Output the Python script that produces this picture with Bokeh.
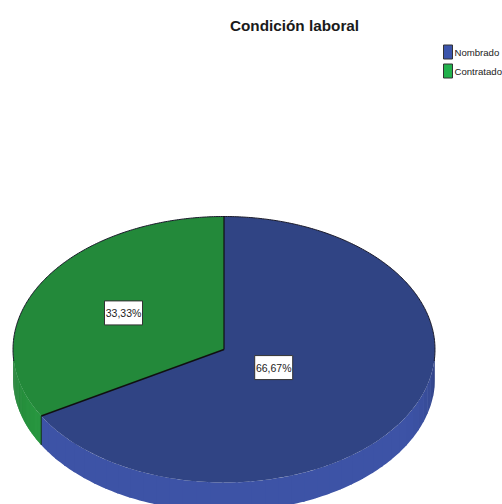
import numpy as np
from bokeh.plotting import figure
from bokeh.models import Range1d
from bokeh.core.properties import value
from bokeh.embed import file_html
from bokeh.resources import INLINE

title = "Condición laboral"
categories = ["Nombrado", "Contratado"]
percent = [66.67, 33.33]
top_colors = ["#304484", "#23893a"]
side_colors = ["#3d53a6", "#289640"]
legend_colors = ["#3c55ac", "#22b14c"]
label_radius = [0.272, 0.55]

CX, CY, RX, RY, DEPTH = 223.5, 349, 211, 133, 29
FONT = value("Liberation Sans")

p = figure(width=502, height=504, output_backend="svg", toolbar_location=None,
           x_range=Range1d(0, 502), y_range=Range1d(504, 0), min_border=0)
p.axis.visible = False
p.grid.visible = False
p.outline_line_color = None
p.background_fill_color = "white"


def rim(a):
    return CX + RX * np.sin(a), CY - RY * np.cos(a)


edges = np.radians(np.concatenate([[0], np.cumsum(percent)]) * 360 / sum(percent))

# side wall (only the part facing the viewer), in shaded strips
for i in range(len(percent)):
    lo, hi = max(edges[i], np.pi / 2), min(edges[i + 1], 3 * np.pi / 2)
    steps = np.linspace(lo, hi, 41)
    for a0, a1 in zip(steps[:-1], steps[1:]):
        t = np.linspace(a0, a1 + 0.01, 5)
        x, y = rim(t)
        f = 0.72 + 0.28 * min(1.0, np.sqrt(max(0.0, np.cos(a0 - np.pi))) * 1.5)
        r, g, b = (int(side_colors[i][k:k + 2], 16) for k in (1, 3, 5))
        col = "#%02x%02x%02x" % (int(r * f), int(g * f), int(b * f))
        p.patch(np.r_[x, x[::-1]], np.r_[y, y[::-1] + DEPTH], fill_color=col, line_color=None)

# top faces
for i in range(len(percent)):
    t = np.linspace(edges[i], edges[i + 1], 200)
    x, y = rim(t)
    p.patch(np.r_[CX, x], np.r_[CY, y], fill_color=top_colors[i], line_color=None)

# dark outline: the upper arc and the slice boundaries only
t = np.radians(np.linspace(265, 455, 300))
ax, ay = rim(t)
p.line(ax, ay, line_color="#1a1a2a", line_width=1)
bx, by = rim(edges[1])
p.line([CX, CX], [CY - RY, CY], line_color="#101010", line_width=1.2)
p.line([CX, bx], [CY, by], line_color="#101010", line_width=1.4)
p.line([bx, bx], [by, by + DEPTH], line_color="#123018", line_width=1)

# value labels
for i in range(len(percent)):
    mid = (edges[i] + edges[i + 1]) / 2
    lx = CX + label_radius[i] * RX * np.sin(mid)
    ly = CY - label_radius[i] * RY * np.cos(mid)
    p.rect([lx], [ly], width=38, height=24, fill_color="white", line_color="#333333", line_width=1)
    p.text([lx], [ly], text=[f"{percent[i]:.2f}%".replace(".", ",")], text_font=FONT,
           text_font_size="10.5px", text_color="#222222", text_align="center", text_baseline="middle")

# title
p.text([294], [25], text=[title], text_font=FONT, text_font_size="15.3px", text_font_style="bold",
       text_color="#1a1a1a", text_align="center", text_baseline="middle")

# legend
for i, c in enumerate(categories):
    y = 51.5 + i * 19
    p.rect([447.5], [y], width=9, height=14, fill_color=legend_colors[i], line_color="#333333", line_width=1)
    p.text([454], [y], text=[c], text_font=FONT, text_font_size="9.6px", text_color="#222222",
           text_align="left", text_baseline="middle")

open("out.html", "w").write(file_html(p, INLINE))
